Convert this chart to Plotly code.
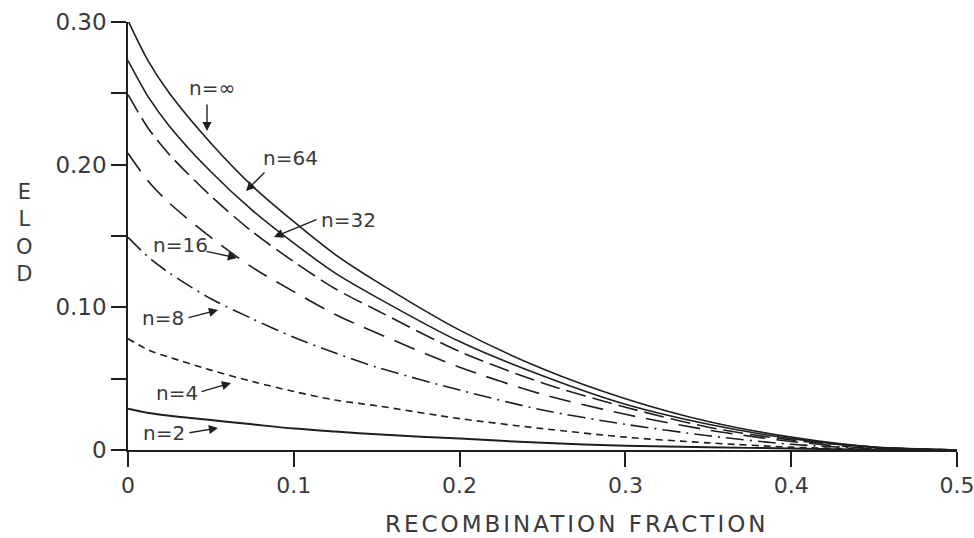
import plotly.graph_objects as go

# ---- data ----
theta = [0, 0.0125, 0.025, 0.05, 0.075, 0.1, 0.125, 0.15, 0.2, 0.25, 0.3, 0.35, 0.4, 0.45, 0.5]
elod_inf = [0.301, 0.272, 0.250, 0.215, 0.185, 0.160, 0.137, 0.118, 0.084, 0.057, 0.036, 0.020, 0.009, 0.002, 0.0]
elod_64 = [0.273, 0.247, 0.227, 0.195, 0.168, 0.145, 0.124, 0.107, 0.076, 0.052, 0.032, 0.018, 0.008, 0.002, 0.0]
elod_32 = [0.249, 0.225, 0.207, 0.178, 0.153, 0.132, 0.113, 0.098, 0.069, 0.047, 0.030, 0.016, 0.007, 0.002, 0.0]
elod_16 = [0.208, 0.188, 0.173, 0.149, 0.128, 0.111, 0.095, 0.082, 0.058, 0.039, 0.025, 0.014, 0.006, 0.001, 0.0]
elod_8 = [0.149, 0.135, 0.124, 0.106, 0.092, 0.079, 0.068, 0.058, 0.042, 0.028, 0.018, 0.010, 0.004, 0.001, 0.0]
elod_4 = [0.078, 0.070, 0.065, 0.056, 0.048, 0.041, 0.035, 0.031, 0.022, 0.015, 0.009, 0.005, 0.002, 0.0005, 0.0]
elod_2 = [0.029, 0.026, 0.024, 0.021, 0.018, 0.015, 0.013, 0.011, 0.008, 0.005, 0.003, 0.002, 0.001, 0.0002, 0.0]

series_names = ["n=∞", "n=64", "n=32", "n=16", "n=8", "n=4", "n=2"]
series_values = [elod_inf, elod_64, elod_32, elod_16, elod_8, elod_4, elod_2]

x_tickvals = [0, 0.1, 0.2, 0.3, 0.4, 0.5]
x_ticktext = ["0", "0.1", "0.2", "0.3", "0.4", "0.5"]
y_tickvals = [0, 0.10, 0.20, 0.30]
y_ticktext = ["0", "0.10", "0.20", "0.30"]
y_minor = [0.05, 0.15, 0.25]
x_title = "RECOMBINATION FRACTION"
y_title = "ELOD"

# ---- styles ----
INK = "#1e1e1e"
TXT = "#3a3a3a"
dashes = ["solid", "solid", "20px,7px", "22px,11px", "18px,6px,2px,6px", "7px,5px", "solid"]
widths = [1.6, 1.6, 1.6, 1.6, 1.6, 1.6, 2.0]

W, H = 974, 538
ML, MR, MT, MB = 128, 17, 22, 88
PW, PH = W - ML - MR, H - MT - MB

def px(xp, yp):
    return (xp - ML) / PW, (H - MB - yp) / PH

fig = go.Figure()
for name, vals, d, w in zip(series_names, series_values, dashes, widths):
    fig.add_trace(go.Scatter(
        x=theta, y=vals, mode="lines", name=name,
        line=dict(color=INK, width=w, dash=d, shape="spline", smoothing=0.8),
        showlegend=False, hoverinfo="skip",
    ))

# labels with arrows (text center, arrow tail, arrow tip in pixels)
label_pos = [(212, 88), (290, 158), (348, 220), (180, 245), (163, 318), (177, 393), (164, 433)]
arrows = [((207, 103), (207, 131)), ((266, 171), (246, 191)), ((318, 219), (274, 237)),
          ((205, 251), (237, 258)), ((187, 318), (218, 310)), ((200, 392), (231, 383)),
          ((188, 433), (218, 428))]

annotations = []
for name, (tx, ty), (tail, tip) in zip(series_names, label_pos, arrows):
    xx, yy = px(tx, ty)
    annotations.append(dict(x=xx, y=yy, xref="paper", yref="paper", text=name, showarrow=False,
                            font=dict(family="DejaVu Sans", size=20, color=TXT),
                            xanchor="center", yanchor="middle"))
    ix, iy = px(*tip)
    annotations.append(dict(x=ix, y=iy, xref="paper", yref="paper", text="", showarrow=True,
                            ax=tail[0] - tip[0], ay=tail[1] - tip[1],
                            arrowhead=2, arrowsize=1.3, arrowwidth=1.4, arrowcolor=INK, standoff=0))

# stacked y-axis title
yx, yy = px(24, 233)
annotations.append(dict(x=yx, y=yy, xref="paper", yref="paper", text="<br>".join(y_title),
                        showarrow=False, font=dict(family="DejaVu Sans", size=21, color=TXT),
                        xanchor="center", yanchor="middle"))
# x-axis title
tx, ty = px(577, 524)
annotations.append(dict(x=tx, y=ty, xref="paper", yref="paper",
                        text='<span style="letter-spacing:3px">' + x_title + '</span>',
                        showarrow=False, font=dict(family="DejaVu Sans", size=23, color=TXT),
                        xanchor="center", yanchor="middle"))

fig.update_layout(
    width=W, height=H, autosize=False,
    margin=dict(l=ML, r=MR, t=MT, b=MB, autoexpand=False),
    paper_bgcolor="white", plot_bgcolor="white",
    annotations=annotations,
    xaxis=dict(
        range=[0, 0.5], tickvals=x_tickvals, ticktext=x_ticktext, automargin=False,
        ticklabeloverflow="allow",
        showgrid=False, zeroline=False, showline=True, linecolor=INK, linewidth=1.6,
        ticks="outside", ticklen=15, tickwidth=1.6, tickcolor=INK,
        tickfont=dict(family="DejaVu Sans", size=22, color=TXT),
    ),
    yaxis=dict(
        range=[0, 0.30], tickvals=y_tickvals, ticktext=y_ticktext, automargin=False,
        ticklabeloverflow="allow",
        showgrid=False, zeroline=False, showline=True, linecolor=INK, linewidth=1.6,
        ticks="outside", ticklen=15, tickwidth=1.6, tickcolor=INK,
        tickfont=dict(family="DejaVu Sans", size=23, color=TXT),
        minor=dict(tickvals=y_minor, ticks="outside", ticklen=15, tickwidth=1.6, tickcolor=INK, showgrid=False),
    ),
)

fig.write_html("out.html", config={"displayModeBar": False},
               post_script="document.body.style.margin='0';document.body.style.overflow='hidden';")
